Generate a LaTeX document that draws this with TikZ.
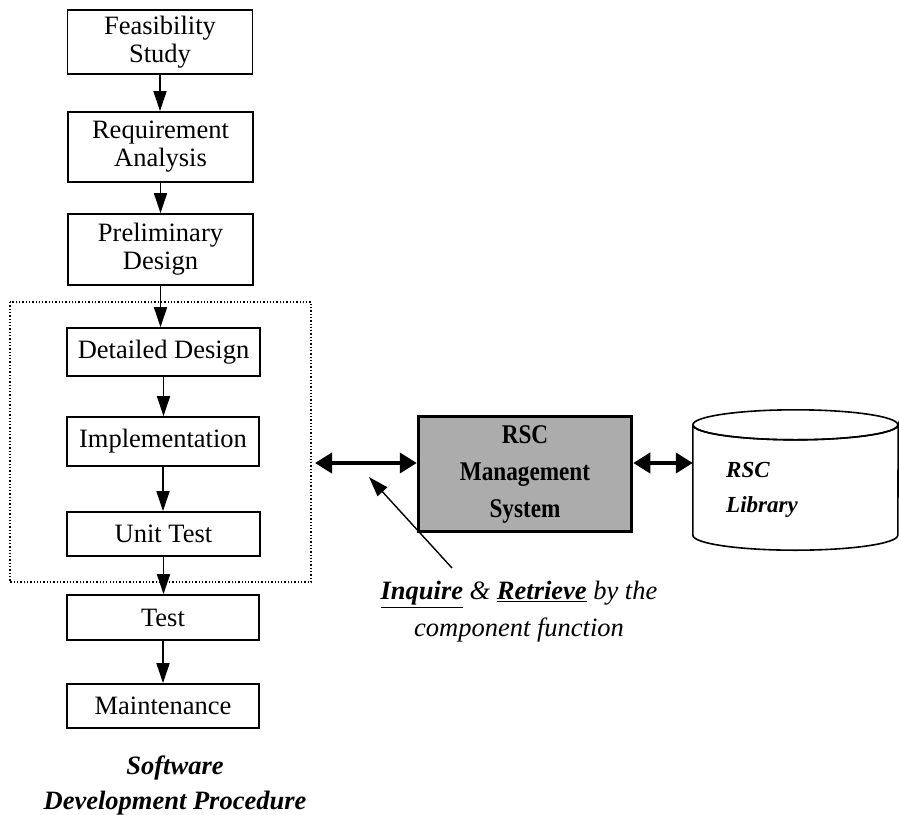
\documentclass[tikz,border=0pt]{standalone}
\usepackage{fontspec}
\setmainfont{Liberation Serif}
\usetikzlibrary{arrows.meta}
\newcommand{\cnd}[1]{\scalebox{0.86}[1]{#1}}
\begin{document}
\begin{tikzpicture}[x=1pt,y=-1pt,
  stepbox/.style={draw,line width=1.6pt,inner sep=0pt,align=center,
    font=\fontsize{26.5}{28}\selectfont},
  flow/.style={line width=1.4pt,-{Triangle[length=20pt,width=13pt]}},
  dbl/.style={line width=4pt,{Triangle[length=17pt,width=20pt]}-{Triangle[length=17pt,width=20pt]}},
  ptr/.style={line width=1.4pt,-{Triangle[length=20pt,width=13pt]}},
  lbl/.style={inner sep=0pt,align=center}
]
\useasboundingbox (0,0) rectangle (899,814);
% dotted group
\draw[dotted,line width=1.3pt] (10,302) rectangle (311,582);
% steps
\node[stepbox,minimum width=185pt,minimum height=64pt] (fs) at (160,42) {Feasibility\\Study};
\node[stepbox,minimum width=185pt,minimum height=70pt] (ra) at (160.5,147) {Requirement\\Analysis};
\node[stepbox,minimum width=185pt,minimum height=71pt] (pd) at (160.5,249.5) {Preliminary\\Design};
\node[stepbox,minimum width=193pt,minimum height=48pt] (dd) at (163.5,352) {Detailed Design};
\node[stepbox,minimum width=192pt,minimum height=49pt] (im) at (163,441.5) {Implementation};
\node[stepbox,minimum width=193pt,minimum height=44pt] (ut) at (163.5,534) {Unit Test};
\node[stepbox,minimum width=192pt,minimum height=45pt] (ts) at (163,617.5) {Test};
\node[stepbox,minimum width=192pt,minimum height=44pt] (mt) at (163,706) {Maintenance};
\draw[flow] (fs.south) -- (fs.south |- ra.north);
\draw[flow] (ra.south) -- (ra.south |- pd.north);
\draw[flow] (pd.south) -- (pd.south |- dd.north);
\draw[flow] (dd.south) -- (dd.south |- im.north);
\draw[flow] (im.south) -- (im.south |- ut.north);
\draw[flow] (ut.south) -- (ut.south |- ts.north);
\draw[flow] (ts.south) -- (ts.south |- mt.north);
\node[lbl,font=\fontsize{26.5}{35}\selectfont\bfseries\itshape] (cap) at (175,785) {Software\\Development Procedure};
% RSC management system
\node[draw,line width=3.5pt,fill={rgb,255:red,172;green,172;blue,172},
  minimum width=213pt,minimum height=115pt,inner sep=0pt,align=center,
  font=\fontsize{27}{37}\selectfont\bfseries] (rsc) at (525,474) {\cnd{RSC}\\\cnd{Management}\\\cnd{System}};
% library cylinder
\node[minimum width=205pt,minimum height=140pt,inner sep=0pt] (lib) at (795.5,480) {};
\draw[line width=1.6pt,fill=white]
  ([yshift=-15pt]lib.north west) -- ([yshift=15pt]lib.south west)
  arc[start angle=180,end angle=360,x radius=102.5pt,y radius=15pt]
  -- ([yshift=-15pt]lib.north east)
  arc[start angle=0,end angle=-180,x radius=102.5pt,y radius=15pt];
\draw[line width=1.6pt] ([yshift=-15pt]lib.north west)
  arc[start angle=180,end angle=-180,x radius=102.5pt,y radius=15pt];
\node[lbl,align=left,font=\fontsize{23}{35}\selectfont\bfseries\itshape] (libt) at (762,490) {RSC\\Library};
% connectors
\coordinate (sdp) at (315,463);
\draw[dbl] (sdp) -- (sdp -| rsc.west);
\draw[dbl] (rsc.east |- 0,463) -- (lib.west |- 0,463);
% inquire label
\node[lbl,font=\fontsize{26.5}{37}\selectfont\itshape] (inq) at (519,612) {\textbf{\underline{Inquire}} \&
  \textbf{\underline{Retrieve}} by the\\component function};
\coordinate (ptrs) at (452,568);
\coordinate (ptrt) at (369,477);
\draw[ptr] (ptrs) -- (ptrt);
\end{tikzpicture}
\end{document}
